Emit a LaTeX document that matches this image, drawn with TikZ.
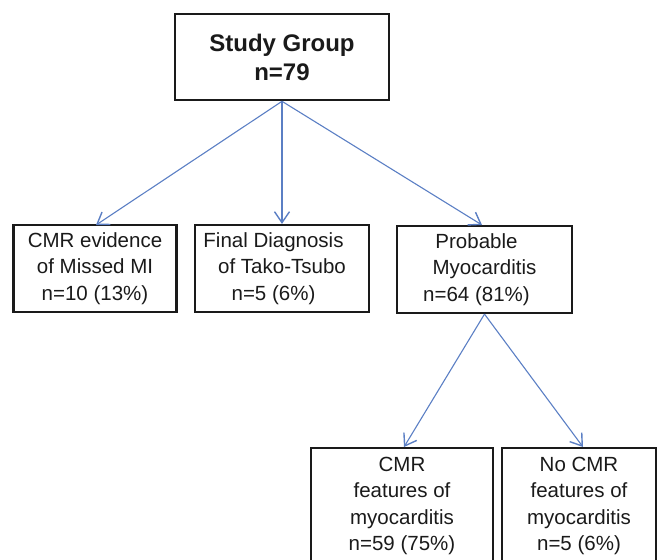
\documentclass[tikz,border=0pt]{standalone}
\usepackage{fontspec}
\setmainfont{Liberation Sans}
\usetikzlibrary{arrows.meta}
\definecolor{linkblue}{RGB}{91,127,196}
\definecolor{inkgray}{RGB}{26,26,26}

\begin{document}
\begin{tikzpicture}[x=1pt,y=-1pt,
    box/.style={draw=inkgray, line width=2.2pt, align=center, inner sep=0pt,
                text=inkgray, font=\fontsize{20.5}{26.5}\selectfont},
    title/.style={box, line width=2.6pt, font=\fontsize{24}{29}\selectfont\bfseries},
    link/.style={draw=linkblue, line width=1.1pt, -{Straight Barb[length=11pt,width=15pt,line width=1.4pt]}}]
                        \useasboundingbox (0,0) rectangle (657,560);

                        % Nodes
                        \node[title, minimum width=214pt, minimum height=86pt] (study) at (282,57) {Study Group\\n=79};
                        \node[box, minimum width=163pt, minimum height=87pt] (missed) at (95,268.5) {CMR evidence\\of Missed MI\\n=10 (13\%)};
                        \node[box, minimum width=174pt, minimum height=87pt] (tako) at (282,268.5) {Final Diagnosis\hspace*{17pt}\\of Tako-Tsubo\hspace*{17pt}\\n=5 (6\%)\hspace*{17pt}};
                        \node[box, minimum width=175pt, minimum height=87pt] (probable) at (484.5,269.5) {Probable\hspace*{16pt}\\Myocarditis\hspace*{16pt}\\n=64 (81\%)\hspace*{16pt}};
                        \node[box, minimum width=182pt, minimum height=116pt] (features) at (402,506) {CMR\\features of\\myocarditis\\n=59 (75\%)};
                        \node[box, minimum width=154pt, minimum height=116pt] (nofeatures) at (579,506) {No CMR\\features of\\myocarditis\\n=5 (6\%)};

                        % Edges
                        \draw[link] (study.south) -- (96,225);
                        \draw[link] (study.south) -- (tako.north);
                        \draw[link] (study.south) -- (482,225);

                        \draw[link] (probable.south) -- (404,447);
                        \draw[link] (probable.south) -- (583,447);
                    \end{tikzpicture}
\end{document}
